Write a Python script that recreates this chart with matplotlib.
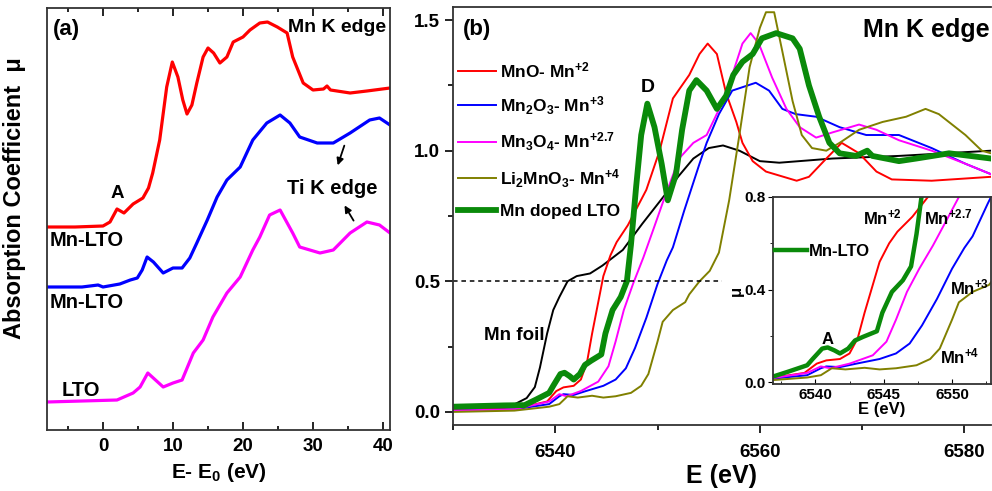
import numpy as np
import matplotlib
matplotlib.use('Agg')
import matplotlib.pyplot as plt
from matplotlib.ticker import MultipleLocator

plt.rcParams['font.family'] = ['Liberation Sans', 'DejaVu Sans']
plt.rcParams['font.weight'] = 'bold'
plt.rcParams['axes.labelweight'] = 'bold'
plt.rcParams['mathtext.fontset'] = 'custom'
plt.rcParams['mathtext.rm'] = 'Liberation Sans:bold'
plt.rcParams['mathtext.bf'] = 'Liberation Sans:bold'
plt.rcParams['mathtext.default'] = 'bf'

# ---- panel (a): normalised XANES, E - E0 (eV), stacked (arb. units)
a_red_x = [-8, -4, 0, 1, 2, 3, 4.3, 5.7, 6.5, 7.1, 8.1, 9.1, 9.9, 10.7, 11.4, 12, 12.7, 13.4,
           14.3, 15, 15.8, 16.7, 17.7, 18.6, 20, 21, 22.4, 23.5, 24.9, 26.3, 27.1, 28.6,
           30, 31.5, 32, 32.5, 35.3, 37.7, 41]
a_red_y = [2.03, 2.03, 2.04, 2.08, 2.21, 2.17, 2.26, 2.32, 2.42, 2.57, 2.90, 3.43, 3.68, 3.53,
           3.30, 3.16, 3.25, 3.47, 3.73, 3.82, 3.77, 3.67, 3.73, 3.88, 3.93, 4.00, 4.07, 4.08,
           4.03, 3.97, 3.73, 3.47, 3.40, 3.41, 3.44, 3.40, 3.37, 3.39, 3.42]

a_blue_x = [-8, -3, -0.7, 0, 2.4, 3.9, 4.9, 5.6, 6.3, 7.2, 8.6, 10, 11.3, 12.4, 13.4, 14.9, 16.3,
            17.7, 19.6, 21.4, 23.4, 25.3, 26.7, 28.1, 30.6, 32.9, 35.3, 38.1, 39.5, 41]
a_blue_y = [1.43, 1.43, 1.45, 1.43, 1.46, 1.50, 1.52, 1.60, 1.73, 1.68, 1.57, 1.62, 1.62, 1.72,
            1.87, 2.10, 2.33, 2.50, 2.63, 2.90, 3.07, 3.15, 3.07, 2.93, 2.87, 2.87, 2.97, 3.10,
            3.12, 3.05]

a_mag_x = [-8, 2, 4.3, 5.3, 6.4, 7.5, 8.6, 10, 11.3, 12.9, 14.3, 15.7, 17.7, 19.6, 21.4, 22.4,
           23.8, 25.3, 27.1, 28.1, 31, 32.9, 35.3, 37.7, 39.5, 41]
a_mag_y = [0.28, 0.30, 0.37, 0.43, 0.57, 0.50, 0.43, 0.47, 0.50, 0.77, 0.90, 1.13, 1.37, 1.53,
           1.80, 1.93, 2.15, 2.20, 1.97, 1.83, 1.77, 1.80, 1.97, 2.08, 2.05, 1.97]

# ---- panel (b): Mn K edge, E (eV) vs mu
mno_x = [6530, 6535, 6537, 6539.2, 6540.1, 6540.8, 6541.8, 6542.5, 6543.1, 6543.6, 6544.1,
         6544.7, 6545.4, 6546.0, 6547.1, 6548.1, 6548.9, 6550.2, 6551.5, 6553.1, 6554.1,
         6554.9, 6555.8, 6556.7, 6557.7, 6558.3, 6559.3, 6560.6, 6563.6, 6564.8, 6566.5,
         6568, 6569.7, 6571.4, 6572.9, 6576.8, 6582.6]
mno_y = [0.01, 0.015, 0.02, 0.04, 0.08, 0.094, 0.10, 0.124, 0.19, 0.30, 0.40, 0.52, 0.60,
         0.65, 0.715, 0.79, 0.85, 1.00, 1.20, 1.29, 1.37, 1.41, 1.37, 1.22, 1.11, 1.03, 0.96,
         0.92, 0.885, 0.90, 0.97, 1.03, 0.99, 0.92, 0.89, 0.885, 0.90]

mn2o3_x = [6530, 6536, 6539.4, 6540.4, 6540.8, 6541.8, 6543, 6544.7, 6545.9, 6546.9, 6547.8,
           6548.9, 6550.0, 6550.9, 6551.5, 6552.6, 6554.1, 6554.8, 6556, 6557.3, 6559.6,
           6560.9, 6562.2, 6563.5, 6565.5, 6567.8, 6570.4, 6573.6, 6576.8, 6580.1, 6582.6]
mn2o3_y = [0.005, 0.01, 0.03, 0.06, 0.068, 0.065, 0.08, 0.10, 0.124, 0.167, 0.245, 0.36,
           0.49, 0.58, 0.63, 0.77, 0.95, 1.03, 1.14, 1.23, 1.26, 1.23, 1.16, 1.14, 1.13, 1.09,
           1.06, 1.06, 1.01, 0.95, 0.91]

mn3o4_x = [6530, 6536, 6539.4, 6540.4, 6541.1, 6542.5, 6544.2, 6545.2, 6545.9, 6546.7, 6547.6,
           6548.6, 6549.6, 6550.5, 6552.1, 6553.5, 6554.8, 6556.4, 6557.3, 6558.3, 6559.1,
           6559.9, 6561.2, 6562.6, 6563.9, 6565.5, 6567.1, 6569.7, 6571.4, 6573.6, 6576.8,
           6580.1, 6582.6]
mn3o4_y = [0.005, 0.01, 0.04, 0.068, 0.06, 0.08, 0.116, 0.175, 0.27, 0.39, 0.49, 0.59, 0.70,
           0.80, 0.97, 1.03, 1.06, 1.19, 1.29, 1.41, 1.45, 1.41, 1.28, 1.16, 1.09, 1.05, 1.07,
           1.10, 1.08, 1.04, 1.00, 0.95, 0.91]

li2mno3_x = [6530, 6536, 6539.4, 6540.4, 6541.2, 6542.2, 6543.6, 6544.7, 6545.9, 6547.4,
             6548.4, 6549.1, 6550.0, 6550.5, 6551.5, 6552.7, 6553.1, 6554.1, 6555.1, 6556,
             6557, 6558, 6559, 6560, 6560.6, 6561.4, 6562.2, 6563.2, 6564.1, 6565.1, 6566.5,
             6567.8, 6569.7, 6572, 6574.3, 6576.2, 6577.5, 6580.1, 6581.7, 6582.6]
li2mno3_y = [0.0, 0.005, 0.02, 0.03, 0.06, 0.055, 0.062, 0.055, 0.06, 0.073, 0.10, 0.145,
             0.27, 0.345, 0.39, 0.42, 0.45, 0.50, 0.54, 0.61, 0.81, 1.06, 1.32, 1.47, 1.53,
             1.53, 1.38, 1.19, 1.06, 1.01, 1.00, 1.03, 1.08, 1.11, 1.13, 1.16, 1.14, 1.06,
             1.00, 0.99]

mnlto_x = [6530, 6535, 6537, 6538.1, 6539.4, 6539.8, 6540.5, 6540.9, 6541.4, 6541.8, 6542.4,
           6542.9, 6543.5, 6544.5, 6544.9, 6545.6, 6546.4, 6547.0, 6547.4, 6547.9, 6548.4,
           6549, 6549.7, 6550.4, 6551, 6551.8, 6552.4, 6553.1, 6553.8, 6554.8, 6555.8,
           6556.7, 6557.4, 6558.3, 6559.3, 6560.2, 6561.6, 6563.2, 6563.9, 6564.8, 6565.8,
           6566.8, 6567.8, 6569.4, 6570.5, 6571, 6573.6, 6575.3, 6578.5, 6582.6]
mnlto_y = [0.02, 0.025, 0.026, 0.047, 0.073, 0.10, 0.145, 0.15, 0.137, 0.124, 0.145, 0.18,
           0.196, 0.22, 0.30, 0.39, 0.44, 0.50, 0.64, 0.86, 1.06, 1.18, 1.09, 0.95, 0.81, 0.91,
           1.08, 1.23, 1.27, 1.23, 1.16, 1.21, 1.29, 1.34, 1.37, 1.43, 1.45, 1.43, 1.39, 1.25,
           1.13, 1.03, 0.99, 0.98, 1.00, 0.98, 0.96, 0.97, 0.99, 0.97]

foil_x = [6530, 6534, 6535.9, 6537.2, 6538, 6538.5, 6539.2, 6539.8, 6540.4, 6541.2, 6542.1,
          6543.4, 6544.6, 6546.6, 6548.5, 6550.9, 6552, 6553.5, 6555, 6556.4, 6558, 6560,
          6561.9, 6567.1, 6573.6, 6582.6]
foil_y = [0.01, 0.015, 0.027, 0.053, 0.095, 0.17, 0.30, 0.39, 0.44, 0.50, 0.52, 0.53, 0.56,
          0.62, 0.72, 0.84, 0.90, 0.97, 1.01, 1.02, 1.00, 0.96, 0.954, 0.97, 0.98, 1.00]

ref_labels = ['MnO- Mn$^{+2}$', 'Mn$_2$O$_3$- Mn$^{+3}$', 'Mn$_3$O$_4$- Mn$^{+2.7}$',
              'Li$_2$MnO$_3$- Mn$^{+4}$', 'Mn doped LTO']

RED, BLUE, MAG, OLIVE, GREEN = '#ff0000', '#0000ff', '#ff00ff', '#808000', '#0a8a0a'

fig = plt.figure(figsize=(9.92, 4.91), dpi=100)
axa = fig.add_axes([47/992, 61/491, 343/992, 422/491])
axb = fig.add_axes([453/992, 66/491, 538/992, 418/491])
axi = fig.add_axes([773/992, 107/491, 218/992, 187/491])

for ax in (axa, axb, axi):
    for s in ax.spines.values():
        s.set_linewidth(1.3)
        s.set_color('#333333')

# ---------------- panel (a)
axa.plot(a_red_x, a_red_y, color=RED, lw=2.3)
axa.plot(a_blue_x, a_blue_y, color=BLUE, lw=2.3)
axa.plot(a_mag_x, a_mag_y, color=MAG, lw=2.3)
axa.set_xlim(-8, 41)
axa.set_ylim(0, 4.22)
axa.set_yticks([])
axa.xaxis.set_major_locator(MultipleLocator(10))
axa.xaxis.set_minor_locator(MultipleLocator(5))
axa.tick_params(axis='x', which='both', direction='in', top=True, labelsize=13.5, pad=6)
axa.tick_params(axis='x', which='major', length=6, width=1.2)
axa.tick_params(axis='x', which='minor', length=3, width=1.2)
axa.set_xlabel('E- E$_0$ (eV)', fontsize=15, labelpad=4)
axa.set_ylabel('Absorption Coefficient  μ', fontsize=17)
axa.yaxis.set_label_coords(-0.06, 0.55)

axa.text(0.018, 0.975, '(a)', transform=axa.transAxes, fontsize=16, va='top', ha='left')
axa.text(0.99, 0.975, 'Mn K edge', transform=axa.transAxes, fontsize=14, va='top', ha='right')
axa.text(2, 2.37, 'A', fontsize=13.5, ha='center', va='center')
axa.text(-7.6, 1.89, 'Mn-LTO', fontsize=14.5, ha='left', va='center')
axa.text(-7.6, 1.27, 'Mn-LTO', fontsize=14.5, ha='left', va='center')
axa.text(-5.9, 0.39, 'LTO', fontsize=14.5, ha='left', va='center')
axa.text(32.7, 2.42, 'Ti K edge', fontsize=14.5, ha='center', va='center')
axa.annotate('', xy=(33.4, 2.62), xytext=(34.6, 2.87),
             arrowprops=dict(arrowstyle='-|>', color='black', lw=1.3, mutation_scale=10))
axa.annotate('', xy=(34.3, 2.27), xytext=(36.0, 2.07),
             arrowprops=dict(arrowstyle='-|>', color='black', lw=1.3, mutation_scale=10))

# ---------------- panel (b)
axb.plot(foil_x, foil_y, color='black', lw=1.4)
l1, = axb.plot(mno_x, mno_y, color=RED, lw=1.4)
l2, = axb.plot(mn2o3_x, mn2o3_y, color=BLUE, lw=1.4)
l3, = axb.plot(mn3o4_x, mn3o4_y, color=MAG, lw=1.4)
l4, = axb.plot(li2mno3_x, li2mno3_y, color=OLIVE, lw=1.4)
l5, = axb.plot(mnlto_x, mnlto_y, color=GREEN, lw=4.2)
axb.plot([6530, 6556.3], [0.5, 0.5], color='black', lw=1.1, ls=(0, (3, 2.5)))
axb.set_xlim(6530, 6582.6)
axb.set_ylim(-0.05, 1.55)
axb.xaxis.set_major_locator(MultipleLocator(20))
axb.xaxis.set_minor_locator(MultipleLocator(10))
axb.yaxis.set_major_locator(MultipleLocator(0.5))
axb.yaxis.set_minor_locator(MultipleLocator(0.25))
axb.yaxis.set_major_formatter(matplotlib.ticker.FormatStrFormatter('%.1f'))
axb.tick_params(which='both', direction='out', labelsize=13.5, width=1.2)
axb.tick_params(which='major', length=6)
axb.tick_params(which='minor', length=3.5)
axb.tick_params(axis='x', pad=8)
axb.set_xlabel('E (eV)', fontsize=18, labelpad=2)
axb.spines['right'].set_visible(False)

axb.legend([l1, l2, l3, l4, l5], ref_labels, loc='upper left', bbox_to_anchor=(0.0, 0.885),
           frameon=False, fontsize=12.5, handlelength=2.2, handletextpad=0.2,
           labelspacing=0.8, borderpad=0, borderaxespad=0.3)
axb.text(0.019, 0.972, '(b)', transform=axb.transAxes, fontsize=16, va='top', ha='left')
axb.text(0.998, 0.974, 'Mn K edge', transform=axb.transAxes, fontsize=18, va='top', ha='right')
axb.text(6549.0, 1.24, 'D', fontsize=14, ha='center', va='center')
axb.text(6536.0, 0.294, 'Mn foil', fontsize=13.5, ha='center', va='center')

# ---------------- inset
axi.set_facecolor('white')
axi.plot(mno_x, mno_y, color=RED, lw=1.4)
axi.plot(mn2o3_x, mn2o3_y, color=BLUE, lw=1.4)
axi.plot(mn3o4_x, mn3o4_y, color=MAG, lw=1.4)
axi.plot(li2mno3_x, li2mno3_y, color=OLIVE, lw=1.4)
g, = axi.plot(mnlto_x, mnlto_y, color=GREEN, lw=3.2)
axi.set_xlim(6536.9, 6552.85)
axi.set_ylim(-0.008, 0.8)
axi.xaxis.set_major_locator(MultipleLocator(5))
axi.xaxis.set_minor_locator(MultipleLocator(2.5))
axi.yaxis.set_major_locator(MultipleLocator(0.4))
axi.yaxis.set_minor_locator(MultipleLocator(0.2))
axi.tick_params(axis='x', which='both', direction='in', labelsize=11, pad=3)
axi.tick_params(axis='y', which='both', direction='out', labelsize=11, pad=2)
axi.tick_params(which='major', length=3.5)
axi.tick_params(which='minor', length=2)
axi.set_xlabel('E (eV)', fontsize=12, labelpad=0)
axi.set_ylabel('μ', fontsize=12)
axi.yaxis.set_label_coords(-0.135, 0.5)
axi.legend([g], ['Mn-LTO'], loc='center left', bbox_to_anchor=(0.01, 0.71), frameon=False,
           fontsize=12, handlelength=1.9, handletextpad=0.15, borderpad=0, borderaxespad=0)
axi.text(6544.93, 0.71, 'Mn$^{+2}$', fontsize=12, ha='center', va='center')
axi.text(6549.75, 0.71, 'Mn$^{+2.7}$', fontsize=12, ha='center', va='center')
axi.text(6551.28, 0.41, 'Mn$^{+3}$', fontsize=12, ha='center', va='center')
axi.text(6550.55, 0.11, 'Mn$^{+4}$', fontsize=12, ha='center', va='center')
axi.text(6540.9, 0.184, 'A', fontsize=12, ha='center', va='center')

fig.savefig('out.png', dpi=100)
